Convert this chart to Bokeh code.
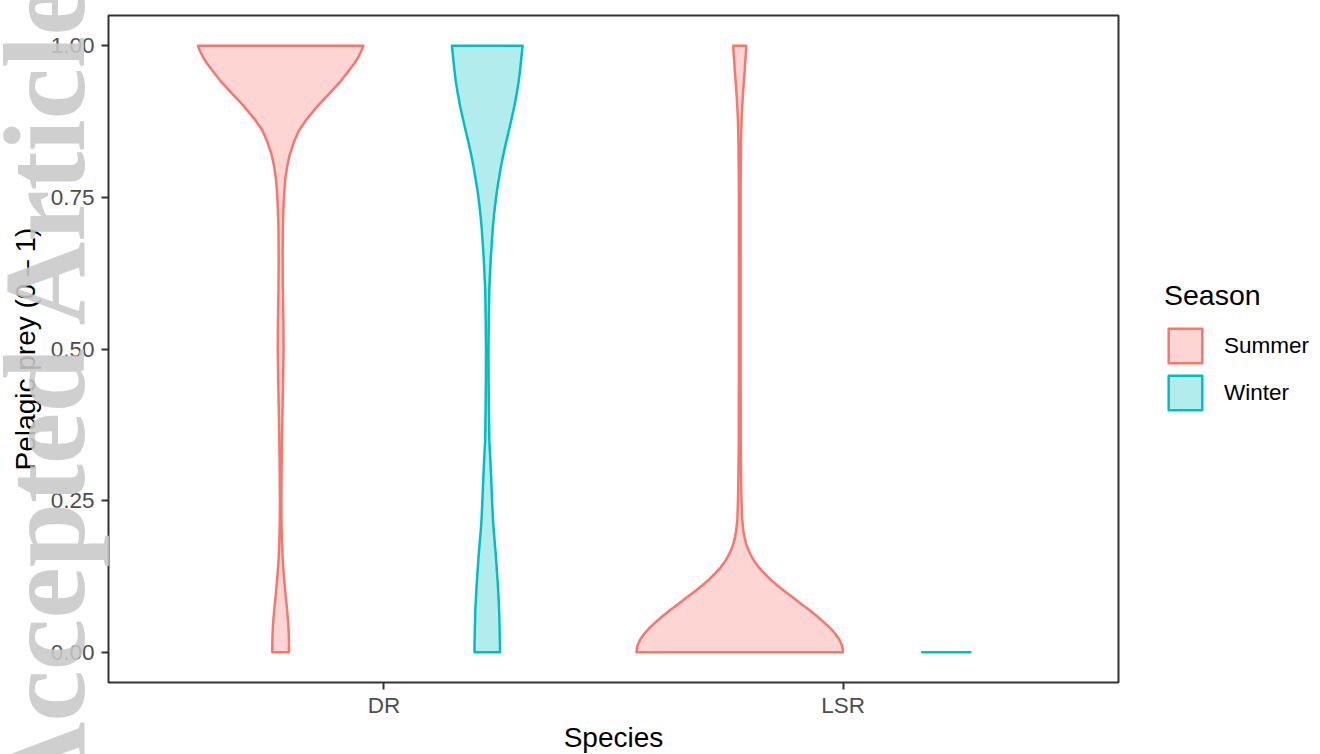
import numpy as np
from bokeh.plotting import figure
from bokeh.models import Legend, LegendItem, Title, FixedTicker, Range1d
from bokeh.embed import file_html
from bokeh.resources import INLINE

# ---------------- data ----------------
species = ["DR", "LSR"]
seasons = ["Summer", "Winter"]
season_colors = ["#F8766D", "#00BFC4"]

y_ticks = [0.0, 0.25, 0.5, 0.75, 1.0]
y_tick_labels = ["0.00", "0.25", "0.50", "0.75", "1.00"]

# y levels (Pelagic prey, 0-1) at which the violin widths were read
y_levels = [0.00, 0.01, 0.02, 0.03, 0.04, 0.05, 0.06, 0.07, 0.08, 0.09,
            0.10, 0.11, 0.12, 0.13, 0.14, 0.15, 0.16, 0.17, 0.18, 0.19,
            0.20, 0.22, 0.25, 0.30, 0.35, 0.40, 0.45, 0.50, 0.55, 0.60,
            0.65, 0.70, 0.72, 0.74, 0.76, 0.78, 0.80, 0.82, 0.84, 0.86,
            0.88, 0.90, 0.92, 0.94, 0.96, 0.97, 0.98, 0.99, 1.00]

# violin half-widths, percent of the widest violin (scaled density)
dr_summer = [8.1, 8.1, 8.0, 7.8, 7.6, 7.2, 6.7, 6.2, 5.6, 5.0,
             4.5, 3.9, 3.4, 2.9, 2.5, 2.1, 1.8, 1.6, 1.4, 1.2,
             1.0, 0.8, 0.7, 0.9, 1.3, 1.8, 2.4, 2.8, 2.6, 2.1,
             1.9, 2.1, 2.5, 2.9, 3.6, 4.5, 6.2, 8.7, 12.6, 17.5,
             25.7, 35.4, 46.4, 57.3, 66.5, 70.9, 74.8, 77.7, 80.1]
dr_winter = [12.3, 12.3, 12.2, 12.1, 12.0, 11.8, 11.7, 11.5, 11.2, 10.9,
             10.6, 10.3, 9.9, 9.5, 9.1, 8.7, 8.3, 7.8, 7.3, 6.8,
             6.3, 5.5, 4.7, 3.5, 2.0, 1.6, 1.3, 1.2, 1.5, 2.0,
             3.4, 5.4, 6.5, 7.8, 9.3, 11.2, 13.2, 15.5, 18.1, 20.9,
             23.6, 26.2, 28.4, 30.3, 31.8, 32.4, 33.0, 33.6, 34.2]
lsr_summer = [100.0, 99.2, 96.6, 92.7, 87.4, 81.1, 74.3, 67.0, 59.2, 51.5,
              43.7, 36.4, 29.6, 23.8, 18.4, 14.1, 10.7, 8.0, 6.0, 4.6,
              3.5, 2.3, 1.7, 1.2, 0.9, 0.9, 0.8, 0.8, 0.8, 0.8,
              0.8, 0.8, 0.8, 0.8, 0.8, 0.9, 1.0, 1.1, 1.2, 1.5,
              1.8, 2.4, 3.1, 3.9, 4.9, 5.2, 5.6, 6.0, 6.3]
# LSR winter: every observation is 0 -> the violin collapses to a flat line
lsr_winter_value = 0.0
lsr_winter_width = 24.3

# ---------------- layout constants ----------------
MAX_HW = 0.225           # half width of a dodged violin (x units)
DODGE = [-0.225, 0.225]  # Summer, Winter offsets
FONT = "Liberation Sans"

p = figure(frame_width=1010, frame_height=667,
           x_range=Range1d(0.4, 2.6), y_range=Range1d(-0.05, 1.05),
           output_backend="svg", toolbar_location=None,
           min_border_left=108, min_border_top=15, min_border_bottom=72,
           min_border_right=202)
p.background_fill_color = "white"
p.border_fill_color = "white"
p.xgrid.visible = False
p.ygrid.visible = False
p.outline_line_color = "#333333"
p.outline_line_width = 2

y = np.array(y_levels)


def violin(center, pct):
    hw = np.array(pct) / 100.0 * MAX_HW
    xs = list(center - hw) + list((center + hw)[::-1])
    ys = list(y) + list(y[::-1])
    return xs, ys


renderers = {}
for sp, series in [("DR", [dr_summer, dr_winter]), ("LSR", [lsr_summer, None])]:
    base = species.index(sp) + 1
    for k, pct in enumerate(series):
        c = base + DODGE[k]
        col = season_colors[k]
        if pct is not None:
            xs, ys = violin(c, pct)
            r = p.patch(xs, ys, fill_color=col, fill_alpha=0.3, line_color=col,
                        line_width=2.5, line_join="round")
            renderers[(sp, k)] = r
        else:
            hw = lsr_winter_width / 100.0 * MAX_HW
            p.line([c - hw, c + hw], [lsr_winter_value, lsr_winter_value],
                   line_color=col, line_width=2.5)

# axes
for ax in [p.xaxis[0], p.yaxis[0]]:
    ax.axis_line_color = None
    ax.major_tick_line_color = "#333333"
    ax.major_tick_line_width = 2
    ax.major_tick_in = 0
    ax.major_tick_out = 7
    ax.minor_tick_in = 0
    ax.minor_tick_out = 0
    ax.major_label_text_font = FONT
    ax.major_label_text_font_size = "22.5px"
    ax.major_label_text_color = "#4D4D4D"
    ax.axis_label_text_font = FONT
    ax.axis_label_text_font_size = "28px"
    ax.axis_label_text_font_style = "normal"
    ax.axis_label_text_color = "black"

p.xaxis.ticker = FixedTicker(ticks=[1, 2])
p.xaxis.major_label_overrides = {i + 1: s for i, s in enumerate(species)}
p.xaxis.axis_label = "Species"
p.xaxis.major_label_standoff = 3
p.xaxis.axis_label_standoff = 1

p.yaxis.ticker = FixedTicker(ticks=y_ticks)
p.yaxis.major_label_overrides = {t: l for t, l in zip(y_ticks, y_tick_labels)}
p.yaxis.axis_label = "Pelagic prey (0 – 1)"
p.yaxis.major_label_standoff = 7
p.yaxis.axis_label_standoff = 7

# "Accepted Article" watermark in the left margin (a side title pulled inward)
wm = Title(text="Accepted Article", align="left", vertical_align="bottom",
           offset=-123, standoff=-204,
           text_font="Liberation Serif", text_font_style="bold",
           text_font_size="116px", text_color="#C8C8C8", text_alpha=0.88)
p.add_layout(wm, "left")

# legend in the right margin
legend = Legend(items=[LegendItem(label=seasons[0], renderers=[renderers[("DR", 0)]]),
                       LegendItem(label=seasons[1], renderers=[renderers[("DR", 1)]])],
                location=(46, 268), title="Season",
                title_text_font=FONT, title_text_font_size="28.5px", title_text_font_style="normal",
                title_text_color="black", title_standoff=12,
                label_text_font=FONT, label_text_font_size="22.5px", label_text_color="black",
                glyph_width=42, glyph_height=43, label_standoff=18, spacing=4,
                padding=0, margin=0, border_line_color=None, background_fill_alpha=0)
p.add_layout(legend, "right")

open("out.html", "w").write(file_html(p, INLINE))
